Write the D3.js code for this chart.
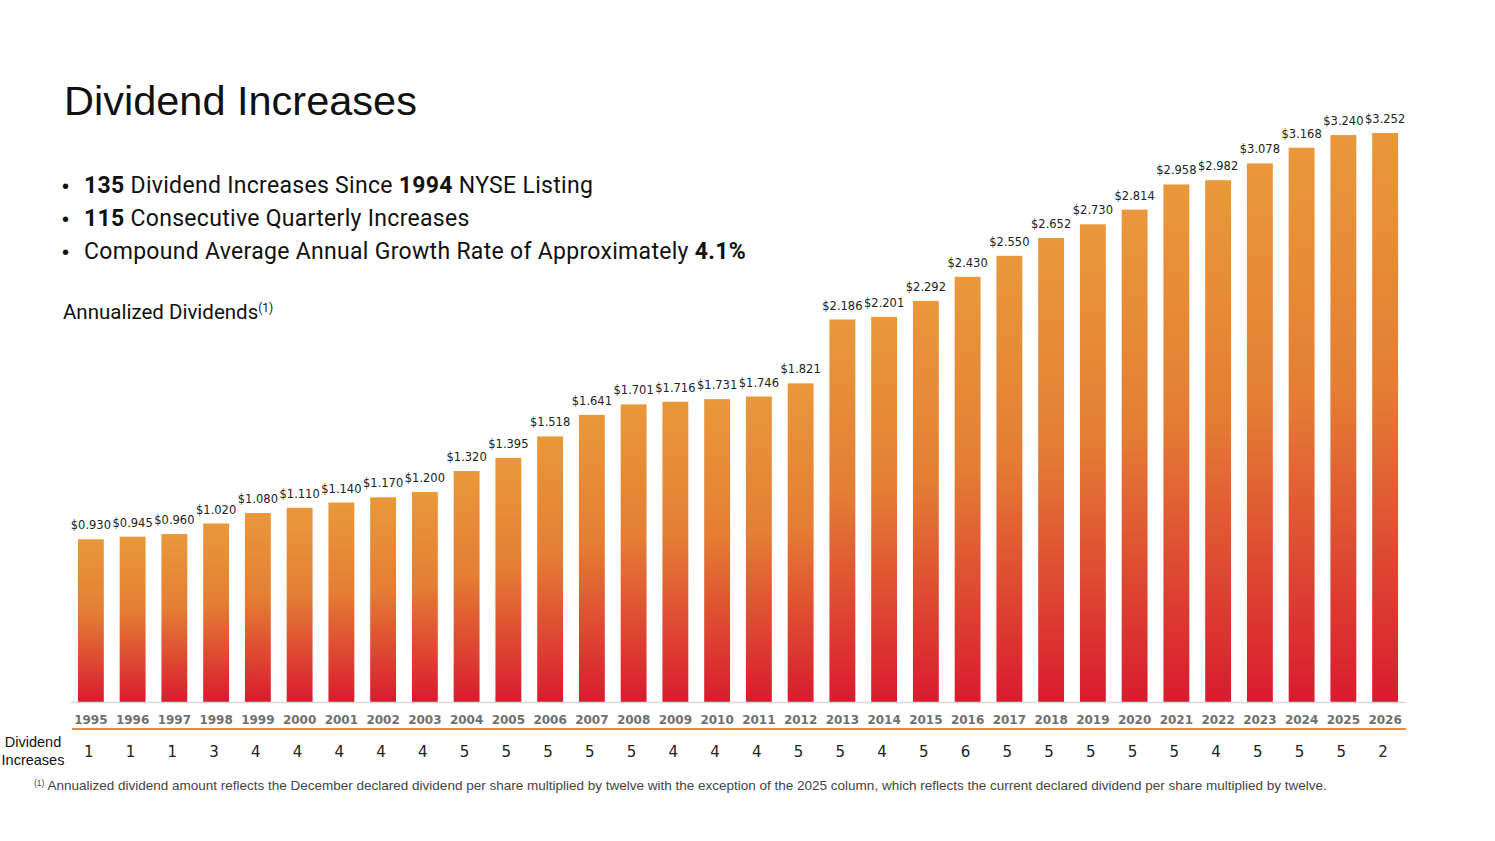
<!DOCTYPE html>
<html>
<head>
<meta charset="utf-8">
<script src="https://cdn.jsdelivr.net/npm/d3@7"></script>
<style>
  body { margin: 0; background: #fff; }
  svg { display: block; }
</style>
</head>
<body>
<svg id="chart" width="1495" height="841"></svg>
<script>
// data
const years = ["1995","1996","1997","1998","1999","2000","2001","2002","2003","2004","2005","2006","2007","2008","2009","2010","2011","2012","2013","2014","2015","2016","2017","2018","2019","2020","2021","2022","2023","2024","2025","2026"];
const dividends = [0.930,0.945,0.960,1.020,1.080,1.110,1.140,1.170,1.200,1.320,1.395,1.518,1.641,1.701,1.716,1.731,1.746,1.821,2.186,2.201,2.292,2.430,2.550,2.652,2.730,2.814,2.958,2.982,3.078,3.168,3.240,3.252];
const increases = [1,1,1,3,4,4,4,4,4,5,5,5,5,5,4,4,4,5,5,4,5,6,5,5,5,5,5,4,5,5,5,2];
const bullets = [
    [["135", true], [" Dividend Increases Since ", false], ["1994", true], [" NYSE Listing", false]],
    [["115", true], [" Consecutive Quarterly Increases", false]],
    [["Compound Average Annual Growth Rate of Approximately ", false], ["4.1%", true]]
];

const data = years.map((y, i) => ({ year: y, value: dividends[i], inc: increases[i] }));

const svg = d3.select("#chart");

const baseY = 702;
const xScale = d3.scaleBand()
    .domain(years)
    .range([70, 1406])
    .paddingInner(0.38)
    .paddingOuter(0.19);

const yScale = d3.scaleLinear()
    .domain([0, 3.252])
    .range([baseY, 133]);

// gradient for bars
const grad = svg.append("defs").append("linearGradient")
    .attr("id", "barGrad")
    .attr("x1", 0).attr("y1", 0).attr("x2", 0).attr("y2", 1);
grad.append("stop").attr("offset", "0%").attr("stop-color", "#e9983a");
grad.append("stop").attr("offset", "45%").attr("stop-color", "#e47e34");
grad.append("stop").attr("offset", "100%").attr("stop-color", "#d91b2f");

// title
svg.append("text")
    .attr("x", 64).attr("y", 115)
    .attr("font-family", "Liberation Sans, Arial, sans-serif")
    .attr("font-size", 41.5)
    .attr("fill", "#111")
    .text("Dividend Increases");

// bullets
bullets.forEach((parts, i) => {
    const by = 193 + i * 33;
    svg.append("text")
        .attr("x", 62).attr("y", by)
        .attr("font-family", "Liberation Sans, Arial, sans-serif")
        .attr("font-size", 20)
        .attr("fill", "#111")
        .text("•");
    const t = svg.append("text")
        .attr("x", 84).attr("y", by)
        .attr("font-family", "Roboto, sans-serif")
        .attr("font-size", 23)
        .attr("letter-spacing", 0.3)
        .attr("fill", "#111");
    parts.forEach(p => {
        t.append("tspan")
            .attr("font-weight", p[1] ? "bold" : "normal")
            .text(p[0]);
    });
});

// subtitle
const sub = svg.append("text")
    .attr("x", 63).attr("y", 319)
    .attr("font-family", "Roboto, sans-serif")
    .attr("font-size", 20.5)
    .attr("fill", "#111")
    .text("Annualized Dividends");
sub.append("tspan")
    .attr("font-size", 12)
    .attr("dy", -7)
    .text("(1)");

// bars
svg.selectAll("rect.bar")
    .data(data)
    .enter()
    .append("rect")
    .attr("class", "bar")
    .attr("x", d => xScale(d.year))
    .attr("y", d => yScale(d.value))
    .attr("width", xScale.bandwidth())
    .attr("height", d => baseY - yScale(d.value))
    .attr("fill", "url(#barGrad)");

// value labels
svg.selectAll("text.val")
    .data(data)
    .enter()
    .append("text")
    .attr("class", "val")
    .attr("x", d => xScale(d.year) + xScale.bandwidth() / 2)
    .attr("y", d => yScale(d.value) - 10)
    .attr("text-anchor", "middle")
    .attr("font-family", "DejaVu Sans, Verdana, sans-serif")
    .attr("font-size", 11.5)
    .attr("fill", "#222")
    .text(d => "$" + d.value.toFixed(3));

// year axis
const xAxis = svg.append("g")
    .attr("transform", `translate(0, ${baseY})`)
    .call(d3.axisBottom(xScale).tickSize(0).tickPadding(13));
xAxis.select(".domain")
    .attr("stroke", "#d9d9d9")
    .attr("stroke-width", 1.5);
xAxis.selectAll("text")
    .attr("font-family", "DejaVu Sans, Verdana, sans-serif")
    .attr("font-size", 12)
    .attr("font-weight", "bold")
    .attr("fill", "#707070");

// orange divider
svg.append("line")
    .attr("x1", 72).attr("x2", 1406)
    .attr("y1", 729).attr("y2", 729)
    .attr("stroke", "#e8893a")
    .attr("stroke-width", 2);

// dividend increases row
svg.append("text")
    .attr("x", 33).attr("y", 747)
    .attr("text-anchor", "middle")
    .attr("font-family", "Liberation Sans, Arial, sans-serif")
    .attr("font-size", 14.5)
    .attr("fill", "#111")
    .selectAll("tspan")
    .data(["Dividend", "Increases"])
    .enter()
    .append("tspan")
    .attr("x", 33)
    .attr("dy", (d, i) => i === 0 ? 0 : 18)
    .text(d => d);

svg.selectAll("text.inc")
    .data(data)
    .enter()
    .append("text")
    .attr("class", "inc")
    .attr("x", d => xScale(d.year) + xScale.bandwidth() / 2 - 2)
    .attr("y", 757)
    .attr("text-anchor", "middle")
    .attr("font-family", "DejaVu Sans, Verdana, sans-serif")
    .attr("font-size", 15)
    .attr("fill", "#222")
    .text(d => d.inc);

// footnote
const foot = svg.append("text")
    .attr("x", 34).attr("y", 790)
    .attr("font-family", "Liberation Sans, Arial, sans-serif")
    .attr("font-size", 13.5)
    .attr("fill", "#444");
foot.append("tspan")
    .attr("font-size", 8.5)
    .attr("dy", -4)
    .text("(1)");
foot.append("tspan")
    .attr("dy", 4)
    .text(" Annualized dividend amount reflects the December declared dividend per share multiplied by twelve with the exception of the 2025 column, which reflects the current declared dividend per share multiplied by twelve.");
</script>
</body>
</html>
